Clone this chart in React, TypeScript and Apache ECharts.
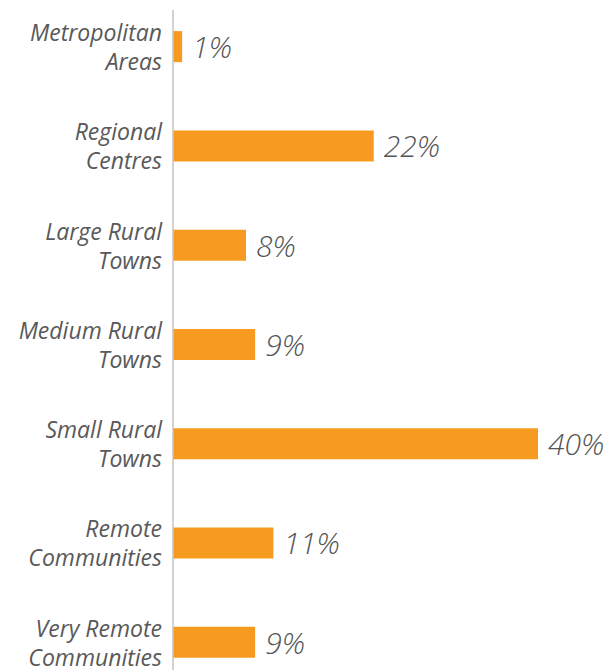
import React, { useEffect, useRef } from "react";
import * as echarts from "echarts";

const categories = [
  "Metropolitan\nAreas",
  "Regional\nCentres",
  "Large Rural\nTowns",
  "Medium Rural\nTowns",
  "Small Rural\nTowns",
  "Remote\nCommunities",
  "Very Remote\nCommunities",
];
const values = [1, 22, 8, 9, 40, 11, 9];

const OFFSET = 20;

export default function App() {
  const ref = useRef<HTMLDivElement>(null);
  useEffect(() => {
    document.body.style.margin = "0";
    const chart = echarts.init(ref.current!, null, { renderer: "svg" });
    chart.setOption({
      animation: false,
      backgroundColor: "#ffffff",
      grid: { left: 173, width: 428.875, top: OFFSET - 3, height: 694.75, containLabel: false },
      xAxis: {
        type: "value",
        min: 0,
        max: 47,
        show: false,
      },
      yAxis: {
        type: "category",
        data: categories,
        inverse: true,
        axisLine: { show: false },
        axisTick: { show: false },
        splitLine: { show: false },
        axisLabel: {
          margin: 11,
          color: "#595959",
          fontFamily: "Open Sans",
          fontStyle: "italic",
          fontSize: 23,
          lineHeight: 29,
          align: "right",
        },
      },
      graphic: [
        {
          type: "line",
          shape: { x1: 173, y1: OFFSET + 10, x2: 173, y2: OFFSET + 700 },
          style: { stroke: "#c4c4c4", lineWidth: 1.5 },
          z: 10,
        },
      ],
      series: [
        {
          type: "bar",
          data: values,
          barWidth: 31,
          itemStyle: { color: "#F79B20" },
          label: {
            show: true,
            position: "right",
            distance: 10,
            formatter: "{c}%",
            color: "#555555",
            fontFamily: "Open Sans",
            fontStyle: "italic",
            fontWeight: 300,
            fontSize: 30,
          },
        },
      ],
    });
    return () => chart.dispose();
  }, []);
  return (
    <div style={{ position: "relative", width: 609, height: 670, overflow: "hidden" }}>
      <div
        ref={ref}
        style={{ position: "absolute", left: 0, top: -OFFSET, width: 609, height: 670 + OFFSET + 30 }}
      />
    </div>
  );
}
